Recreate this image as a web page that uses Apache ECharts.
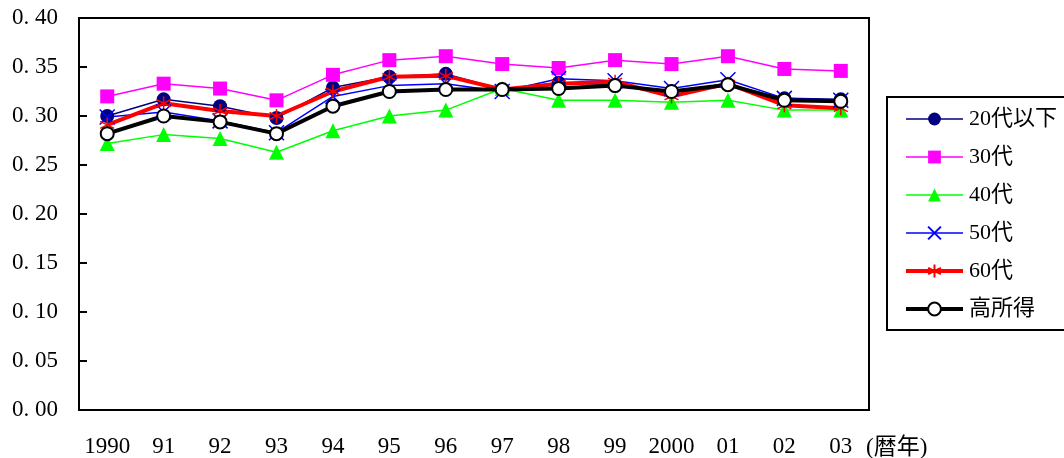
<!DOCTYPE html>
<html>
<head>
<meta charset="utf-8">
<script src="https://cdn.jsdelivr.net/npm/echarts@6/dist/echarts.min.js"></script>
<style>
  html, body { margin: 0; padding: 0; background: #fff; }
  #chart { width: 1064px; height: 458px; }
</style>
</head>
<body>
<div id="chart"></div>
<script>
// 年次ラベル
const years = ['1990', '91', '92', '93', '94', '95', '96', '97', '98', '99', '2000', '01', '02', '03'];
// 各系列の値
const under20 = [0.300, 0.317, 0.310, 0.298, 0.329, 0.340, 0.343, 0.327, 0.334, 0.332, 0.325, 0.332, 0.318, 0.317];
const age30 = [0.320, 0.333, 0.328, 0.316, 0.342, 0.357, 0.361, 0.353, 0.349, 0.357, 0.353, 0.361, 0.348, 0.346];
const age40 = [0.272, 0.281, 0.277, 0.263, 0.285, 0.300, 0.306, 0.328, 0.316, 0.316, 0.314, 0.316, 0.306, 0.306];
const age50 = [0.299, 0.304, 0.295, 0.283, 0.320, 0.331, 0.333, 0.325, 0.338, 0.336, 0.328, 0.337, 0.318, 0.316];
const age60 = [0.291, 0.313, 0.305, 0.300, 0.325, 0.340, 0.341, 0.327, 0.333, 0.335, 0.320, 0.333, 0.311, 0.308];
const highIncome = [0.282, 0.300, 0.294, 0.282, 0.310, 0.325, 0.327, 0.327, 0.328, 0.331, 0.325, 0.332, 0.316, 0.315];

const font = '"Liberation Serif", "Noto Sans CJK JP", serif';

const crossPath = 'path://M0,0L10,10M10,0L0,10';
const starPath = 'path://M5,0L5,10M0.8,2.5L9.2,7.5M9.2,2.5L0.8,7.5';

const myChart = echarts.init(document.getElementById('chart'));

const option = {
  backgroundColor: '#fff',
  animation: false,
  grid: {
    left: 79, right: 195, top: 18, bottom: 47,
    show: true, borderColor: '#000', borderWidth: 2
  },
  legend: {
    orient: 'vertical',
    left: 887, top: 97,
    padding: [11, 40, 10, 17],
    borderColor: '#000', borderWidth: 2,
    itemWidth: 57, itemHeight: 16, itemGap: 16,
    textStyle: { fontFamily: font, fontSize: 22, color: '#000', padding: [0, 0, 0, 1] },
    data: [
      { name: '20代以下', lineStyle: { width: 1.5 } },
      { name: '30代', lineStyle: { width: 1.5 } },
      { name: '40代', lineStyle: { width: 1.5 } },
      { name: '50代', lineStyle: { width: 1.5 } },
      { name: '60代', lineStyle: { width: 4 } },
      { name: '高所得', lineStyle: { width: 4 } }
    ]
  },
  xAxis: {
    type: 'category',
    data: years,
    boundaryGap: true,
    axisLine: { lineStyle: { color: '#000', width: 2 } },
    axisTick: { inside: true, length: 8, interval: 0, lineStyle: { color: '#000', width: 2 } },
    axisLabel: { fontFamily: font, fontSize: 23, color: '#000', margin: 25, interval: 0, hideOverlap: false }
  },
  yAxis: {
    type: 'value',
    min: 0, max: 0.4, interval: 0.05,
    splitLine: { show: false },
    axisLine: { show: true, lineStyle: { color: '#000', width: 2 } },
    axisTick: { show: true, inside: true, length: 8, lineStyle: { color: '#000', width: 2 } },
    axisLabel: {
      fontFamily: font, fontSize: 23, color: '#000', margin: 21,
      formatter: v => v.toFixed(2).replace('.', '. ')
    }
  },
  graphic: [{
    type: 'text', left: 866, top: 436,
    style: { text: '(暦年)', font: '23px ' + font, fill: '#000' }
  }],
  series: [
    {
      name: '20代以下', type: 'line', data: under20,
      symbol: 'circle', symbolSize: 14,
      lineStyle: { color: '#000080', width: 1.5 },
      itemStyle: { color: '#000080' }
    },
    {
      name: '30代', type: 'line', data: age30,
      symbol: 'rect', symbolSize: 14,
      lineStyle: { color: '#ff00ff', width: 1.5 },
      itemStyle: { color: '#ff00ff' }
    },
    {
      name: '40代', type: 'line', data: age40,
      symbol: 'triangle', symbolSize: 15,
      lineStyle: { color: '#00ff00', width: 1.5 },
      itemStyle: { color: '#00ff00' }
    },
    {
      name: '50代', type: 'line', data: age50,
      symbol: crossPath, symbolSize: 15,
      lineStyle: { color: '#0000ff', width: 1.5 },
      itemStyle: { color: '#0000ff', borderColor: '#0000ff', borderWidth: 1.5 }
    },
    {
      name: '60代', type: 'line', data: age60,
      symbol: starPath, symbolSize: 14,
      lineStyle: { color: '#ff0000', width: 4 },
      itemStyle: { color: '#ff0000', borderColor: '#ff0000', borderWidth: 1.5 }
    },
    {
      name: '高所得', type: 'line', data: highIncome,
      symbol: 'circle', symbolSize: 13,
      lineStyle: { color: '#000', width: 4 },
      itemStyle: { color: '#fff', borderColor: '#000', borderWidth: 2 }
    }
  ]
};

myChart.setOption(option);
</script>
</body>
</html>
